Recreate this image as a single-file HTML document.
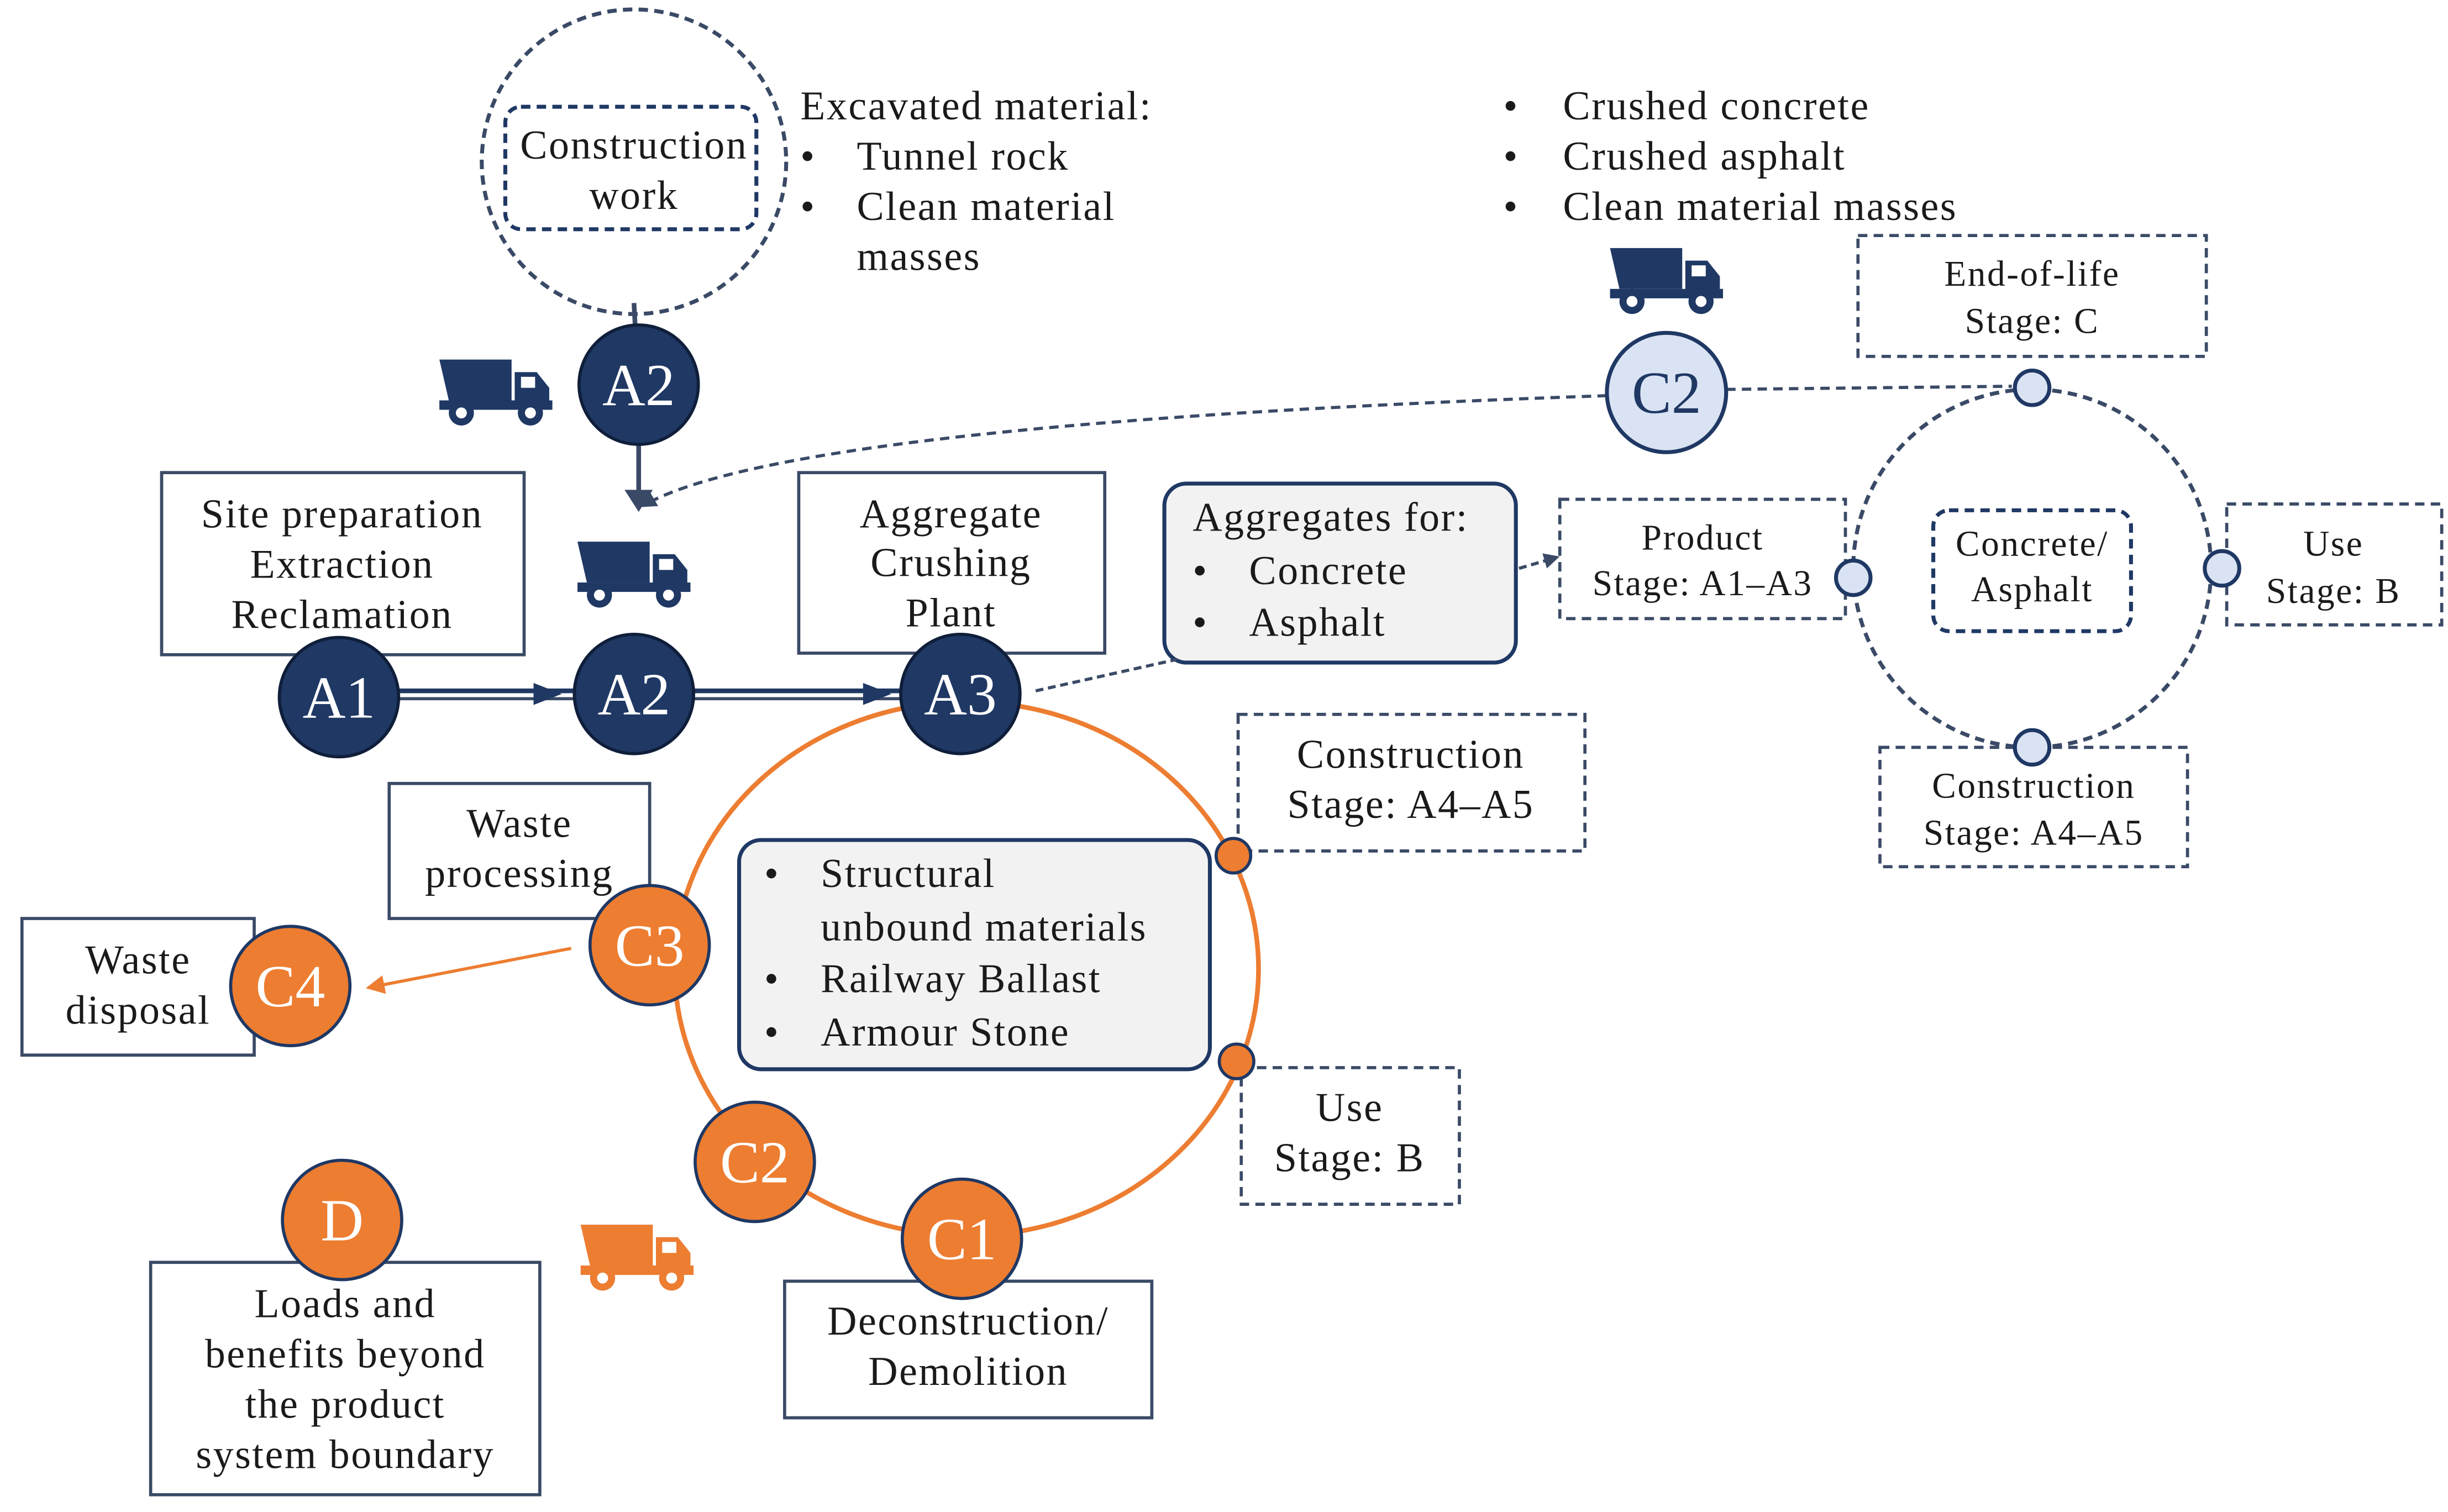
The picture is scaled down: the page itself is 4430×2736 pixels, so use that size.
<!DOCTYPE html>
<html><head><meta charset="utf-8"><style>
html,body{margin:0;padding:0;background:#fff;}
svg{display:block;}
text{font-family:"Liberation Serif",serif;fill:#1a1a1a;}
.t{font-size:26px;letter-spacing:0.9px;}
.c{font-size:38px;fill:#fff;text-anchor:middle;}
</style></head><body>
<svg width="4430" height="2736" viewBox="0 0 1560 963" preserveAspectRatio="none" xmlns="http://www.w3.org/2000/svg">
<defs>
<g id="truck">
<path d="M0,2 L46,2 L46,28 L6,28 Z" fill="currentColor"/>
<path d="M48,10 L62,10 L70,20 L70,32 L48,32 Z" fill="currentColor"/>
<rect x="52" y="13" width="9" height="7" fill="#fff"/>
<rect x="0" y="28" width="72" height="6" fill="currentColor"/>
<circle cx="14" cy="36" r="8" fill="currentColor"/><circle cx="14" cy="36" r="3.5" fill="#fff"/>
<circle cx="58" cy="36" r="8" fill="currentColor"/><circle cx="58" cy="36" r="3.5" fill="#fff"/>
</g>
<marker id="an" markerWidth="10" markerHeight="10" refX="8" refY="5" orient="auto" markerUnits="userSpaceOnUse"><path d="M0,0 L10,5 L0,10 Z" fill="#3a4a66"/></marker>
<marker id="ao" markerWidth="12" markerHeight="12" refX="10" refY="6" orient="auto" markerUnits="userSpaceOnUse"><path d="M0,0 L12,6 L0,12 Z" fill="#ed7d31"/></marker>
</defs>

<circle cx="404" cy="103" r="97" fill="none" stroke="#3a4a66" stroke-width="2.5" stroke-dasharray="6,4"/>
<rect x="322" y="68" width="160" height="78" rx="10" fill="none" stroke="#1f3864" stroke-width="2.5" stroke-dasharray="6,4"/>
<text class="t" x="404" y="101" text-anchor="middle">Construction</text>
<text class="t" x="404" y="133" text-anchor="middle">work</text>
<line x1="404" y1="193" x2="405" y2="212" stroke="#3a4a66" stroke-width="3"/>
<line x1="407" y1="283" x2="407" y2="318" stroke="#3a4a66" stroke-width="3"/>
<path d="M398,312 L416,312 L407,326 Z" fill="#3a4a66"/>

<text class="t" x="510" y="76">Excavated  material:</text>
<text class="t" x="510" y="108">•</text><text class="t" x="546" y="108">Tunnel rock</text>
<text class="t" x="510" y="140">•</text><text class="t" x="546" y="140">Clean material</text>
<text class="t" x="546" y="172">masses</text>

<text class="t" x="958" y="76">•</text><text class="t" x="996" y="76">Crushed concrete</text>
<text class="t" x="958" y="108">•</text><text class="t" x="996" y="108">Crushed asphalt</text>
<text class="t" x="958" y="140">•</text><text class="t" x="996" y="140">Clean material masses</text>

<use href="#truck" x="280" y="227" style="color:#1f3864"/>
<use href="#truck" x="368" y="343" style="color:#1f3864"/>
<use href="#truck" x="1026" y="156" style="color:#1f3864"/>
<use href="#truck" x="370" y="778" style="color:#ed7d31"/>

<rect x="1184" y="150" width="222" height="77" fill="#fff" stroke="#3a4a66" stroke-width="2" stroke-dasharray="6,4"/>
<text class="t" x="1295" y="182" text-anchor="middle" style="font-size:23px">End-of-life</text>
<text class="t" x="1295" y="212" text-anchor="middle" style="font-size:23px">Stage: C</text>
<line x1="1100" y1="248" x2="1282" y2="246" stroke="#3a4a66" stroke-width="2" stroke-dasharray="6,4"/>
<path d="M1024,252 Q500,270 410,322" fill="none" stroke="#3a4a66" stroke-width="2" stroke-dasharray="6,4" marker-end="url(#an)"/>
<circle cx="1062" cy="250" r="38" fill="#dae3f3" stroke="#1f3864" stroke-width="2.5"/>
<text class="c" x="1062" y="263" style="fill:#1f3864">C2</text>

<circle cx="1295" cy="362" r="114" fill="none" stroke="#3a4a66" stroke-width="2.5" stroke-dasharray="6,4"/>
<rect x="1232" y="325" width="126" height="77" rx="10" fill="none" stroke="#1f3864" stroke-width="2.5" stroke-dasharray="6,4"/>
<text class="t" x="1295" y="354" text-anchor="middle" style="font-size:23px">Concrete/</text>
<text class="t" x="1295" y="383" text-anchor="middle" style="font-size:23px">Asphalt</text>
<rect x="994" y="318" width="182" height="76" fill="#fff" stroke="#3a4a66" stroke-width="2" stroke-dasharray="6,4"/>
<text class="t" x="1085" y="350" text-anchor="middle" style="font-size:23px">Product</text>
<text class="t" x="1085" y="379" text-anchor="middle" style="font-size:23px">Stage: A1–A3</text>
<rect x="1419" y="321" width="137" height="77" fill="#fff" stroke="#3a4a66" stroke-width="2" stroke-dasharray="6,4"/>
<text class="t" x="1487" y="354" text-anchor="middle" style="font-size:23px">Use</text>
<text class="t" x="1487" y="384" text-anchor="middle" style="font-size:23px">Stage: B</text>
<rect x="1198" y="476" width="196" height="76" fill="#fff" stroke="#3a4a66" stroke-width="2" stroke-dasharray="6,4"/>
<text class="t" x="1296" y="508" text-anchor="middle" style="font-size:23px">Construction</text>
<text class="t" x="1296" y="538" text-anchor="middle" style="font-size:23px">Stage: A4–A5</text>
<g fill="#dae3f3" stroke="#1f3864" stroke-width="2.5">
<circle cx="1295" cy="247" r="11"/><circle cx="1181" cy="368" r="11"/><circle cx="1416" cy="362" r="11"/><circle cx="1295" cy="476" r="11"/>
</g>

<rect x="742" y="308" width="224" height="114" rx="14" fill="#f2f2f2" stroke="#1f3864" stroke-width="2.5"/>
<text class="t" x="760" y="338">Aggregates for:</text>
<text class="t" x="760" y="372">•</text><text class="t" x="796" y="372">Concrete</text>
<text class="t" x="760" y="405">•</text><text class="t" x="796" y="405">Asphalt</text>
<line x1="968" y1="362" x2="992" y2="355" stroke="#3a4a66" stroke-width="2" stroke-dasharray="5,3" marker-end="url(#an)"/>
<line x1="660" y1="440" x2="750" y2="420" stroke="#3a4a66" stroke-width="2" stroke-dasharray="5,3"/>

<rect x="103" y="301" width="231" height="116" fill="#fff" stroke="#3a4a66" stroke-width="2"/>
<text class="t" x="218" y="336" text-anchor="middle">Site preparation</text>
<text class="t" x="218" y="368" text-anchor="middle">Extraction</text>
<text class="t" x="218" y="400" text-anchor="middle">Reclamation</text>
<rect x="509" y="301" width="195" height="115" fill="#fff" stroke="#3a4a66" stroke-width="2"/>
<text class="t" x="606" y="336" text-anchor="middle">Aggregate</text>
<text class="t" x="606" y="367" text-anchor="middle">Crushing</text>
<text class="t" x="606" y="399" text-anchor="middle">Plant</text>

<ellipse cx="616" cy="617" rx="186" ry="170" fill="none" stroke="#ed7d31" stroke-width="3"/>

<line x1="250" y1="440" x2="580" y2="440" stroke="#1f3864" stroke-width="3"/>
<line x1="250" y1="445" x2="580" y2="445" stroke="#3a4a66" stroke-width="2"/>
<path d="M340,435 L358,442 L340,449 Z" fill="#1f3864"/>
<path d="M550,435 L568,442 L550,449 Z" fill="#1f3864"/>
<g fill="#1f3864" stroke="#0f1e3a" stroke-width="2">
<circle cx="216" cy="444" r="38"/><circle cx="404" cy="442" r="38"/><circle cx="612" cy="442" r="38"/><circle cx="407" cy="245" r="38"/>
</g>
<text class="c" x="216" y="457">A1</text>
<text class="c" x="404" y="455">A2</text>
<text class="c" x="612" y="455">A3</text>
<text class="c" x="407" y="258">A2</text>

<rect x="789" y="455" width="221" height="87" fill="#fff" stroke="#3a4a66" stroke-width="2" stroke-dasharray="6,4"/>
<text class="t" x="899" y="489" text-anchor="middle">Construction</text>
<text class="t" x="899" y="521" text-anchor="middle">Stage: A4–A5</text>
<rect x="791" y="680" width="139" height="87" fill="#fff" stroke="#3a4a66" stroke-width="2" stroke-dasharray="6,4"/>
<text class="t" x="860" y="714" text-anchor="middle">Use</text>
<text class="t" x="860" y="746" text-anchor="middle">Stage: B</text>
<g fill="#ed7d31" stroke="#1f3864" stroke-width="2">
<circle cx="786" cy="545" r="11"/><circle cx="788" cy="676" r="11"/>
</g>

<rect x="471" y="535" width="300" height="146" rx="14" fill="#f2f2f2" stroke="#1f3864" stroke-width="2.5"/>
<text class="t" x="487" y="565">•</text><text class="t" x="523" y="565">Structural</text>
<text class="t" x="523" y="599">unbound materials</text>
<text class="t" x="487" y="632">•</text><text class="t" x="523" y="632">Railway Ballast</text>
<text class="t" x="487" y="666">•</text><text class="t" x="523" y="666">Armour Stone</text>

<rect x="248" y="499" width="166" height="86" fill="#fff" stroke="#3a4a66" stroke-width="2"/>
<text class="t" x="331" y="533" text-anchor="middle">Waste</text>
<text class="t" x="331" y="565" text-anchor="middle">processing</text>
<rect x="14" y="585" width="148" height="87" fill="#fff" stroke="#3a4a66" stroke-width="2"/>
<text class="t" x="88" y="620" text-anchor="middle">Waste</text>
<text class="t" x="88" y="652" text-anchor="middle">disposal</text>
<line x1="364" y1="604" x2="235" y2="629" stroke="#ed7d31" stroke-width="2" marker-end="url(#ao)"/>

<rect x="96" y="804" width="248" height="148" fill="#fff" stroke="#3a4a66" stroke-width="2"/>
<text class="t" x="220" y="839" text-anchor="middle">Loads and</text>
<text class="t" x="220" y="871" text-anchor="middle">benefits beyond</text>
<text class="t" x="220" y="903" text-anchor="middle">the product</text>
<text class="t" x="220" y="935" text-anchor="middle">system boundary</text>
<rect x="500" y="816" width="234" height="87" fill="#fff" stroke="#3a4a66" stroke-width="2"/>
<text class="t" x="617" y="850" text-anchor="middle">Deconstruction/</text>
<text class="t" x="617" y="882" text-anchor="middle">Demolition</text>

<g fill="#ed7d31" stroke="#1f3864" stroke-width="2">
<circle cx="414" cy="602" r="38"/><circle cx="185" cy="628" r="38"/><circle cx="481" cy="740" r="38"/><circle cx="613" cy="789" r="38"/><circle cx="218" cy="777" r="38"/>
</g>
<text class="c" x="414" y="615">C3</text>
<text class="c" x="185" y="641">C4</text>
<text class="c" x="481" y="753">C2</text>
<text class="c" x="613" y="802">C1</text>
<text class="c" x="218" y="790">D</text>
</svg>
</body></html>
